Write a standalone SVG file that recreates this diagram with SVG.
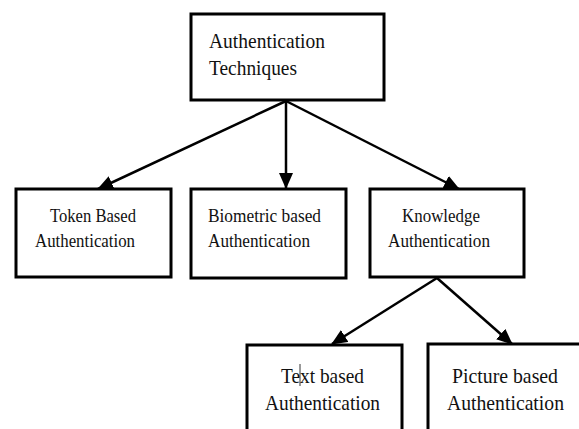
<svg xmlns="http://www.w3.org/2000/svg" width="579" height="429" viewBox="0 0 579 429">
<defs>
<style>
.box{fill:#fff;stroke:#000;stroke-width:3}
.t{font-family:"Liberation Serif","Times New Roman",serif;fill:#111}
.e{stroke:#000;stroke-width:2.5;fill:none}
</style>
<marker id="ah" markerUnits="userSpaceOnUse" markerWidth="16" markerHeight="14" refX="15" refY="7" orient="auto" viewBox="0 0 16 14">
<path d="M0,0 L16,7 L0,14 z" fill="#000"/>
</marker>
</defs>
<rect width="579" height="429" fill="#fff"/>
<g id="connectors">
<line class="e" x1="286" y1="101" x2="98" y2="189" marker-end="url(#ah)"/>
<line class="e" x1="286" y1="101" x2="286" y2="188" marker-end="url(#ah)"/>
<line class="e" x1="286" y1="101" x2="459" y2="189" marker-end="url(#ah)"/>
<line class="e" x1="437" y1="278" x2="332" y2="344" marker-end="url(#ah)"/>
<line class="e" x1="437" y1="278" x2="512" y2="344" marker-end="url(#ah)"/>
</g>
<g id="root">
<rect class="box" x="191" y="14" width="193" height="86"/>
<text class="t" x="209" y="48" font-size="22" textLength="116" lengthAdjust="spacingAndGlyphs">Authentication</text>
<text class="t" x="209" y="75" font-size="22" textLength="88" lengthAdjust="spacingAndGlyphs">Techniques</text>
</g>
<g id="token">
<rect class="box" x="16" y="189" width="155" height="88"/>
<text class="t" x="50" y="222" font-size="19" textLength="86" lengthAdjust="spacingAndGlyphs">Token Based</text>
<text class="t" x="35" y="247" font-size="19" textLength="100" lengthAdjust="spacingAndGlyphs">Authentication</text>
</g>
<g id="biometric">
<rect class="box" x="191" y="189" width="155" height="89"/>
<text class="t" x="208" y="222" font-size="19" textLength="113" lengthAdjust="spacingAndGlyphs">Biometric based</text>
<text class="t" x="208" y="247" font-size="19" textLength="102" lengthAdjust="spacingAndGlyphs">Authentication</text>
</g>
<g id="knowledge">
<rect class="box" x="370" y="189" width="154" height="88"/>
<text class="t" x="402" y="222" font-size="19" textLength="78" lengthAdjust="spacingAndGlyphs">Knowledge</text>
<text class="t" x="388" y="247" font-size="19" textLength="102" lengthAdjust="spacingAndGlyphs">Authentication</text>
</g>
<g id="text-based">
<rect class="box" x="247" y="345" width="155" height="90"/>
<text class="t" x="281" y="383" font-size="22" textLength="83" lengthAdjust="spacingAndGlyphs">Text based</text>
<text class="t" x="265" y="410" font-size="22" textLength="115" lengthAdjust="spacingAndGlyphs">Authentication</text>
<line x1="300" y1="364" x2="300" y2="386" stroke="#000" stroke-width="0.8"/>
</g>
<g id="picture-based">
<rect class="box" x="428" y="344" width="160" height="90"/>
<text class="t" x="452" y="383" font-size="22" textLength="106" lengthAdjust="spacingAndGlyphs">Picture based</text>
<text class="t" x="447" y="410" font-size="22" textLength="117" lengthAdjust="spacingAndGlyphs">Authentication</text>
</g>
</svg>
